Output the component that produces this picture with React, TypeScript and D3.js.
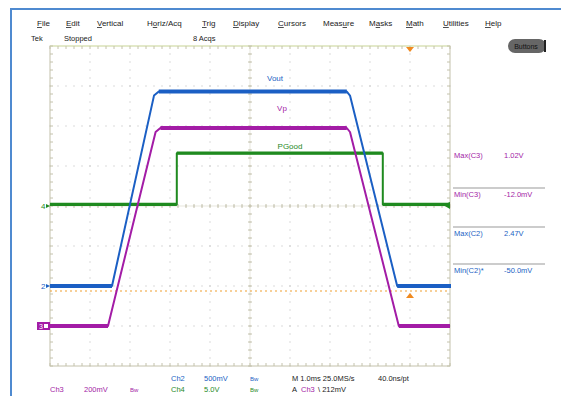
import React from "react";
import * as d3 from "d3";

// ---- data ----
const TIME_DOMAIN = [0, 10]; // ms (1 ms/div, 10 div)
const DIV_DOMAIN = [0, 8]; // vertical divisions

// Ch2 Vout (blue), 500 mV/div
const voutT = [0, 1.55, 2.6, 2.72, 7.42, 7.5, 8.68, 10];
const voutV = [0, 0, 2.38, 2.43, 2.43, 2.38, 0, 0];
// Ch3 Vp (magenta), 200 mV/div
const vpT = [0, 1.45, 2.64, 2.76, 7.42, 7.5, 8.72, 10];
const vpV = [0, 0, 0.97, 0.99, 0.99, 0.97, 0, 0];
// Ch4 PGood (green), 5 V/div
const pgT = [0, 3.17, 3.17, 8.32, 8.32, 10];
const pgV = [0.2, 0.2, 6.6, 6.6, 0.2, 0.2];

const menuItems = ["File", "Edit", "Vertical", "Horiz/Acq", "Trig", "Display", "Cursors", "Measure", "Masks", "Math", "Utilities", "Help"];
const menuUnderline = [0, 0, 0, 1, 0, 0, 0, 4, 1, 0, 0, 0];
const menuX = [37, 66, 97, 147, 202, 233, 278, 323, 369, 406, 443, 485];

const measLabels = ["Max(C3)", "Min(C3)", "Max(C2)", "Min(C2)*"];
const measValues = ["1.02V", "-12.0mV", "2.47V", "-50.0mV"];
const measChannel = ["ch3", "ch3", "ch2", "ch2"];

const TRIGGER_LEVEL = 0.175; // V on Ch3 (as drawn)
const TRIGGER_TIME = 9.0; // ms

const channels = {
  ch2: { color: "#1b5fc4", offset: 2, vdiv: 0.5 },
  ch3: { color: "#a31ca6", offset: 1, vdiv: 0.2 },
  ch4: { color: "#1f8a1f", offset: 4, vdiv: 5 },
};

const W = 561, H = 396;
const GX0 = 50, GX1 = 450, GY0 = 46, GY1 = 366;
const FONT = "'Liberation Sans', Arial, sans-serif";

export default function App() {
  const x = d3.scaleLinear().domain(TIME_DOMAIN).range([GX0, GX1]);
  const y = d3.scaleLinear().domain(DIV_DOMAIN).range([GY1, GY0]);
  const yc = (ch: keyof typeof channels, v: number) =>
    y(channels[ch].offset + v / channels[ch].vdiv);

  const mk = (ch: keyof typeof channels, T: number[], V: number[]) =>
    d3.line<number>().x((_, i) => x(T[i])).y((_, i) => yc(ch, V[i]))(T) || "";

  const flats = (ch: keyof typeof channels, T: number[], V: number[]) => {
    const segs: [number, number, number][] = [];
    for (let i = 0; i < T.length - 1; i++) {
      if (V[i] === V[i + 1] && T[i] !== T[i + 1]) segs.push([x(T[i]), x(T[i + 1]), yc(ch, V[i])]);
    }
    return segs;
  };

  const majorX = d3.range(0, 11).map((d) => x(d));
  const majorY = d3.range(0, 9).map((d) => y(d));
  const minorX = d3.range(0, 10.01, 0.2).map((d) => x(d));
  const minorY = d3.range(0, 8.01, 0.2).map((d) => y(d));

  const gridDots: JSX.Element[] = [];
  majorY.slice(1, -1).forEach((yy, i) =>
    minorX.forEach((xx, j) => gridDots.push(<rect key={`h${i}-${j}`} x={xx - 0.5} y={yy - 0.5} width={1} height={1} fill="#b8b8b8" />))
  );
  majorX.slice(1, -1).forEach((xx, i) =>
    minorY.forEach((yy, j) => gridDots.push(<rect key={`v${i}-${j}`} x={xx - 0.5} y={yy - 0.5} width={1} height={1} fill="#b8b8b8" />))
  );

  const cx = x(5), cy = y(4);
  const borderCol = "#c4c2ac";

  const traces: [keyof typeof channels, number[], number[], number][] = [
    ["ch4", pgT, pgV, 3.2],
    ["ch3", vpT, vpV, 4],
    ["ch2", voutT, voutV, 4],
  ];

  const trigY = yc("ch3", TRIGGER_LEVEL);
  const trigX = x(TRIGGER_TIME);

  return (
    <div style={{ position: "fixed", left: 0, top: 0 }}>
      <svg width={W} height={H} style={{ display: "block", background: "#fff" }} fontFamily={FONT}>
        {/* frame */}
        <line x1={11} y1={9} x2={W} y2={9} stroke="#4f8ad0" strokeWidth={2} />
        <line x1={11} y1={8} x2={11} y2={H} stroke="#4f8ad0" strokeWidth={2} />

        {/* menu */}
        {menuItems.map((m, i) => (
          <text key={m} x={menuX[i]} y={26} fontSize={8} fill="#222">
            {m.slice(0, menuUnderline[i])}
            <tspan textDecoration="underline">{m[menuUnderline[i]]}</tspan>
            {m.slice(menuUnderline[i] + 1)}
          </text>
        ))}
        <text x={31} y={41} fontSize={7.5} fill="#222">Tek</text>
        <text x={64} y={41} fontSize={7.5} fill="#222">Stopped</text>
        <text x={193} y={41} fontSize={7.5} fill="#222">8 Acqs</text>
        <rect x={508} y={39} width={38} height={14} rx={7} fill="#666" />
        <rect x={544} y={40} width={2} height={12} fill="#222" />
        <text x={526} y={49} fontSize={7} fill="#111" textAnchor="middle">Buttons</text>

        {/* graticule */}
        {gridDots}
        <rect x={GX0} y={GY0} width={GX1 - GX0} height={GY1 - GY0} fill="none" stroke={borderCol} strokeWidth={1} />
        <line x1={GX0} y1={GY0} x2={GX1} y2={GY0} stroke="#e3ecc4" strokeWidth={1.5} />
        <line x1={cx} y1={GY0} x2={cx} y2={GY1} stroke="#d8d6c8" strokeWidth={0.6} />
        <line x1={GX0} y1={cy} x2={GX1} y2={cy} stroke="#d8d6c8" strokeWidth={0.6} />
        {minorX.map((xx, i) => (
          <g key={`tx${i}`} stroke={borderCol} strokeWidth={1}>
            <line x1={xx} y1={GY0} x2={xx} y2={GY0 + 3} />
            <line x1={xx} y1={GY1} x2={xx} y2={GY1 - 3} />
            <line x1={xx} y1={cy - 2} x2={xx} y2={cy + 2} />
          </g>
        ))}
        {minorY.map((yy, i) => (
          <g key={`ty${i}`} stroke={borderCol} strokeWidth={1}>
            <line x1={GX0} y1={yy} x2={GX0 + 3} y2={yy} />
            <line x1={GX1} y1={yy} x2={GX1 - 3} y2={yy} />
            <line x1={cx - 2} y1={yy} x2={cx + 2} y2={yy} />
          </g>
        ))}

        {/* trigger level */}
        <line x1={GX0} y1={trigY} x2={GX1} y2={trigY} stroke="#f0a030" strokeWidth={1.2} strokeDasharray="2,3" />
        <path d={`M${trigX - 4},${trigY + 7} L${trigX + 4},${trigY + 7} L${trigX},${trigY + 2} Z`} fill="#f08a20" />
        <path d={`M${trigX - 4},${GY0 + 1} L${trigX + 4},${GY0 + 1} L${trigX},${GY0 + 6} Z`} fill="#f08a20" />

        {/* traces */}
        {traces.map(([ch, T, V, sw]) => (
          <g key={ch}>
            <path d={mk(ch, T, V)} fill="none" stroke={channels[ch].color} strokeWidth={2} strokeLinejoin="round" />
            {flats(ch, T, V).map(([a, b, yy], i) => (
              <line key={i} x1={a} x2={b} y1={yy} y2={yy} stroke={channels[ch].color} strokeWidth={sw} />
            ))}
          </g>
        ))}

        {/* trace labels */}
        <text x={275} y={81} fontSize={8} fill={channels.ch2.color} textAnchor="middle">Vout</text>
        <text x={282} y={111} fontSize={8} fill={channels.ch3.color} textAnchor="middle">Vp</text>
        <text x={290} y={149} fontSize={8} fill={channels.ch4.color} textAnchor="middle">PGood</text>

        {/* channel markers left */}
        <text x={41} y={yc("ch4", 0) + 3} fontSize={8} fill={channels.ch4.color}>4</text>
        <path d={`M${46},${yc("ch4", 0) - 2} L${50},${yc("ch4", 0)} L${46},${yc("ch4", 0) + 2} Z`} fill={channels.ch4.color} />
        <text x={41} y={yc("ch2", 0) + 3} fontSize={8} fill={channels.ch2.color}>2</text>
        <path d={`M${46},${yc("ch2", 0) - 2} L${50},${yc("ch2", 0)} L${46},${yc("ch2", 0) + 2} Z`} fill={channels.ch2.color} />
        <rect x={37} y={yc("ch3", 0) - 4} width={13} height={8} fill={channels.ch3.color} />
        <text x={39} y={yc("ch3", 0) + 3} fontSize={7} fill="#fff">3</text>
        <rect x={44} y={yc("ch3", 0) - 2} width={4} height={4} fill="#fff" />

        {/* right markers */}
        <path d={`M${443},${yc("ch4", 0) - 1} L${450},${yc("ch4", 0) - 4} L${450},${yc("ch4", 0) + 3} Z`} fill={channels.ch4.color} />
        <rect x={444} y={yc("ch2", 0) - 2} width={7} height={4} fill={channels.ch2.color} />

        {/* measurements */}
        {measLabels.map((m, i) => {
          const ty = [158, 197, 236, 273][i];
          const col = channels[measChannel[i] as keyof typeof channels].color;
          return (
            <g key={m}>
              {i > 0 && <line x1={453} x2={545} y1={ty - 9} y2={ty - 9} stroke="#999" strokeWidth={1} />}
              <text x={454} y={ty} fontSize={7.5} fill={col}>{m}</text>
              <text x={504} y={ty} fontSize={7.5} fill={col}>{measValues[i]}</text>
            </g>
          );
        })}

        {/* bottom status */}
        <g fontSize={7.5}>
          <text x={171} y={381} fill={channels.ch2.color}>Ch2</text>
          <text x={204} y={381} fill={channels.ch2.color}>500mV</text>
          <text x={250} y={381} fill={channels.ch2.color} fontSize={6}>Bw</text>
          <text x={292} y={381} fill="#222">M 1.0ms 25.0MS/s</text>
          <text x={378} y={381} fill="#222">40.0ns/pt</text>
          <text x={50} y={392} fill={channels.ch3.color}>Ch3</text>
          <text x={84} y={392} fill={channels.ch3.color}>200mV</text>
          <text x={130} y={392} fill={channels.ch3.color} fontSize={6}>Bw</text>
          <text x={171} y={392} fill={channels.ch4.color}>Ch4</text>
          <text x={204} y={392} fill={channels.ch4.color}>5.0V</text>
          <text x={250} y={392} fill={channels.ch4.color} fontSize={6}>Bw</text>
          <text x={292} y={392} fill="#222">A</text>
          <text x={301} y={392} fill={channels.ch3.color}>Ch3</text>
          <text x={318} y={392} fill="#222">\ 212mV</text>
        </g>
      </svg>
    </div>
  );
}
